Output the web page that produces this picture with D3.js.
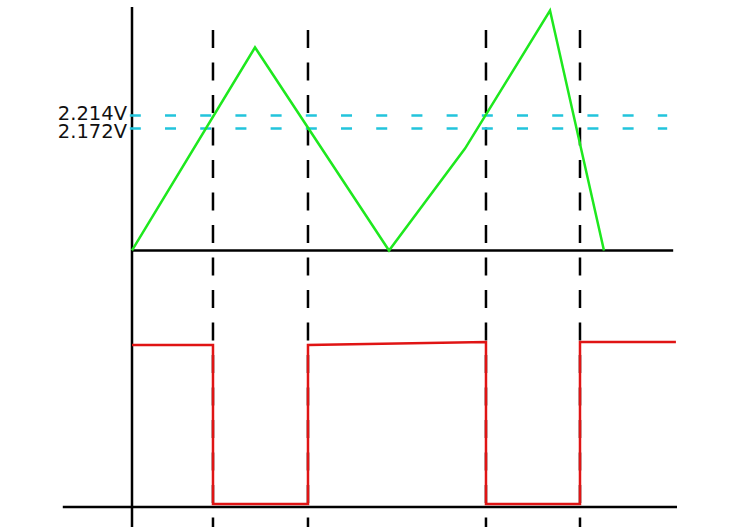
<!DOCTYPE html>
<html>
<head>
<meta charset="utf-8">
<script src="https://cdn.jsdelivr.net/npm/d3@7"></script>
<style>
  html, body { margin: 0; padding: 0; background: #fff; }
  svg { display: block; }
</style>
</head>
<body>
<svg id="chart" width="746" height="527"></svg>
<script>
// ---- data (time in arbitrary units, voltages in V) ----
const triTime    = [0, 2.257, 4.716, 6.11, 7.67, 8.66];
const triVolt    = [1.778, 2.434, 1.778, 2.107, 2.553, 1.778];
const sqTime     = [0, 1.486, 1.486, 3.229, 3.229, 6.495, 6.495, 8.22, 8.22, 9.98];
const sqLevel    = [1.0, 1.0, 0, 0, 1.0, 1.019, 0, 0, 1.019, 1.019];
const thresholds = [2.214, 2.172];
const thresholdLabels = ["2.214V", "2.172V"];
const switchTimes = [1.486, 3.229, 6.495, 8.22];

const svg = d3.select("#chart");

const x = d3.scaleLinear().domain([0, 10]).range([132, 677]);
const yTri = d3.scaleLinear().domain([2.172, 2.214]).range([128.5, 115.5]);
const ySq = d3.scaleLinear().domain([0, 1]).range([504, 345]);

// axes
const axisStroke = "#000";
svg.append("line").attr("x1", x(0)).attr("x2", x(0)).attr("y1", 7).attr("y2", 527)
  .attr("stroke", axisStroke).attr("stroke-width", 2.5);
svg.append("line").attr("x1", x(0)).attr("x2", x(9.93)).attr("y1", yTri(1.778)).attr("y2", yTri(1.778))
  .attr("stroke", axisStroke).attr("stroke-width", 2.5);
svg.append("line").attr("x1", x(-1.27)).attr("x2", x(10)).attr("y1", 507).attr("y2", 507)
  .attr("stroke", axisStroke).attr("stroke-width", 2.5);

// dashed vertical switch lines
svg.selectAll("line.sw").data(switchTimes).join("line")
  .attr("class", "sw")
  .attr("x1", d => x(d)).attr("x2", d => x(d))
  .attr("y1", 30).attr("y2", 527)
  .attr("stroke", "#000").attr("stroke-width", 2.5)
  .attr("stroke-dasharray", "18,14.5");

// threshold lines
svg.selectAll("line.th").data(thresholds).join("line")
  .attr("class", "th")
  .attr("x1", x(-0.04)).attr("x2", x(9.82))
  .attr("y1", d => yTri(d)).attr("y2", d => yTri(d))
  .attr("stroke", "#22c4dc").attr("stroke-width", 2.5)
  .attr("stroke-dasharray", "11,24.2");

// threshold labels
svg.selectAll("text.tl").data(thresholdLabels).join("text")
  .attr("class", "tl")
  .attr("x", 127)
  .attr("y", (d, i) => [119.5, 138][i])
  .attr("text-anchor", "end")
  .attr("font-family", "DejaVu Sans, Verdana, sans-serif")
  .attr("font-size", 19.5)
  .attr("fill", "#111")
  .text(d => d);

// triangle wave
const triData = triTime.map((t, i) => [t, triVolt[i]]);
svg.append("path").datum(triData)
  .attr("d", d3.line().x(d => x(d[0])).y(d => yTri(d[1])))
  .attr("fill", "none").attr("stroke", "#1ee81e").attr("stroke-width", 2.5)
  .attr("stroke-linejoin", "miter");

// square wave
const sqData = sqTime.map((t, i) => [t, sqLevel[i]]);
svg.append("path").datum(sqData)
  .attr("d", d3.line().x(d => x(d[0])).y(d => ySq(d[1])))
  .attr("fill", "none").attr("stroke", "#e01414").attr("stroke-width", 2.5);
</script>
</body>
</html>
